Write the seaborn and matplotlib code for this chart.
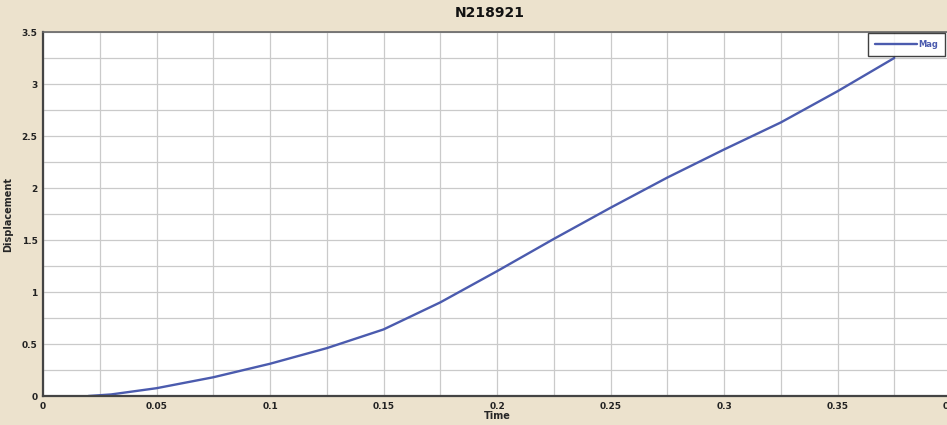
import matplotlib
matplotlib.use("Agg")
import matplotlib.pyplot as plt
import seaborn as sns
import pandas as pd
import numpy as np

# Data
time = [0.02, 0.03, 0.05, 0.075, 0.1, 0.125, 0.15, 0.175, 0.2, 0.225, 0.25, 0.275, 0.3, 0.325, 0.35, 0.375]
mag = [0.0, 0.015, 0.075, 0.18, 0.31, 0.46, 0.64, 0.90, 1.20, 1.51, 1.81, 2.10, 2.37, 2.63, 2.93, 3.25]
x_ticks = [0, 0.05, 0.1, 0.15, 0.2, 0.25, 0.3, 0.35, 0.4]
x_tick_labels = ["0", "0.05", "0.1", "0.15", "0.2", "0.25", "0.3", "0.35", "0.4"]
y_ticks = [0, 0.5, 1, 1.5, 2, 2.5, 3, 3.5]
y_tick_labels = ["0", "0.5", "1", "1.5", "2", "2.5", "3", "3.5"]

df = pd.DataFrame({"Time": time, "Displacement": mag, "series": "Mag"})

sns.set_style("white")
plt.rcParams['font.family'] = ['DejaVu Sans']

bg = "#ECE2CD"
fig = plt.figure(figsize=(9.47, 4.25), dpi=100, facecolor=bg)
W, H = 947, 425
left, right, top, bottom = 43, 951, 32, 396
ax = fig.add_axes([left / W, 1 - bottom / H, (right - left) / W, (bottom - top) / H])
ax.set_facecolor("white")

sns.lineplot(data=df, x="Time", y="Displacement", hue="series", palette=["#4B5BAE"],
             linewidth=1.7, ax=ax, legend=True)

ax.set_xlim(0, 0.4)
ax.set_ylim(0, 3.5)
ax.set_xticks(x_ticks)
ax.set_xticklabels(x_tick_labels)
ax.set_yticks(y_ticks)
ax.set_yticklabels(y_tick_labels)
ax.set_xticks(np.arange(0, 0.401, 0.025), minor=True)
ax.set_yticks(np.arange(0, 3.51, 0.25), minor=True)
ax.grid(True, which="both", color="#CACACA", linewidth=0.9)
ax.tick_params(axis="both", which="major", labelsize=6.5, length=3, width=0.8,
               direction="out", colors="#222222", pad=1)
ax.tick_params(axis="both", which="minor", length=0)
for lbl in ax.get_xticklabels() + ax.get_yticklabels():
    lbl.set_fontweight("bold")

for s in ["left", "bottom"]:
    ax.spines[s].set_color("#444444")
    ax.spines[s].set_linewidth(1.6)
ax.spines["top"].set_color("#666666")
ax.spines["top"].set_linewidth(1.2)
ax.spines["right"].set_visible(False)

ax.set_xlabel("Time", fontsize=7, fontweight="bold", labelpad=0.5)
ax.set_ylabel("Displacement", fontsize=7, fontweight="bold", labelpad=6)

fig.text(490 / W, 1 - 13 / H, "N218921", ha="center", va="center",
         fontsize=10, fontweight="bold", color="#111111")

leg = ax.legend(loc="upper right", bbox_to_anchor=((946 - left) / (right - left), 1.0),
                frameon=True, fancybox=False, fontsize=6, handlelength=5,
                borderpad=0.8, handletextpad=0.2, borderaxespad=0.15)
leg.get_frame().set_edgecolor("#111111")
leg.get_frame().set_linewidth(1.0)
for t in leg.get_texts():
    t.set_color("#4B5BAE")
    t.set_fontweight("bold")

fig.savefig("out.png", dpi=100, facecolor=bg)
